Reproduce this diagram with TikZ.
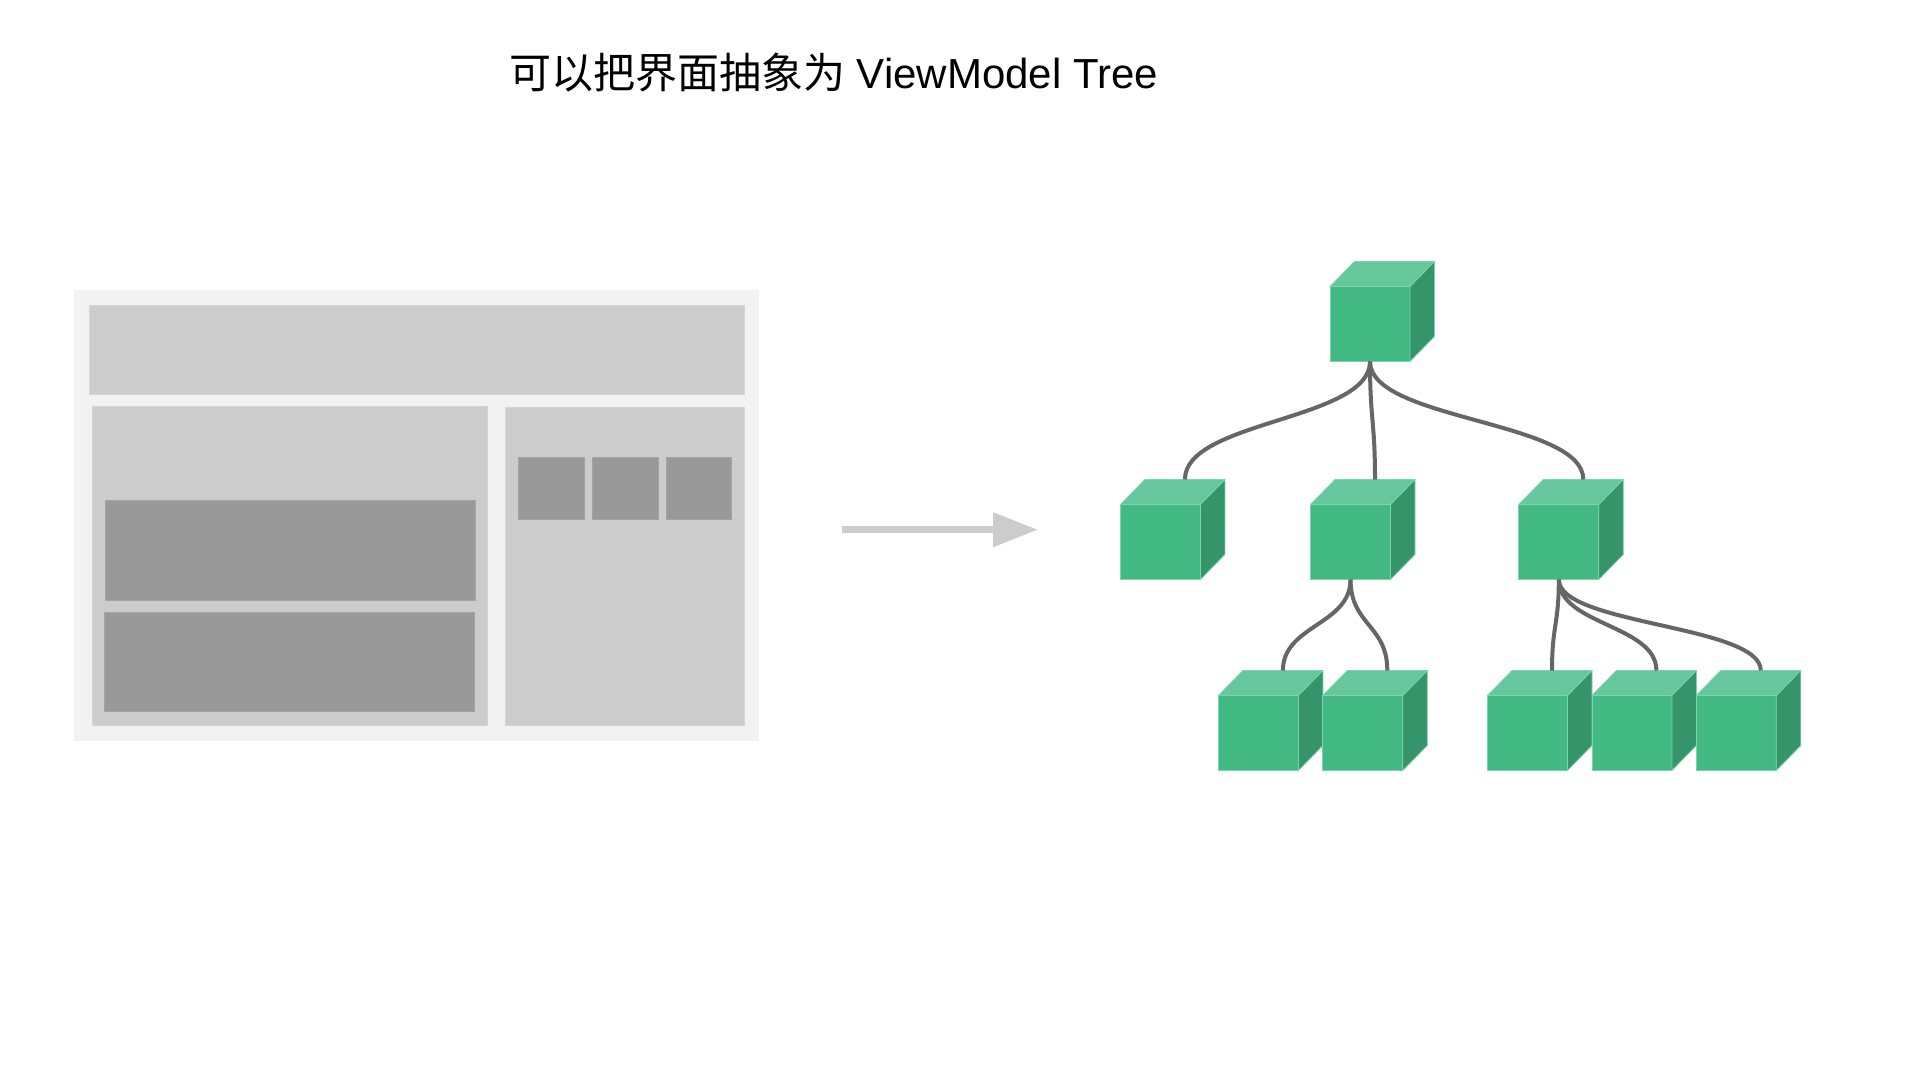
\documentclass[tikz,border=0pt]{standalone}
\usepackage{fontspec}
\setmainfont{Liberation Sans}
\newfontfamily\cjk{Noto Sans CJK SC}
\usetikzlibrary{calc,arrows.meta}
\definecolor{frameC}{HTML}{F2F2F2}
\definecolor{lightC}{HTML}{CCCCCC}
\definecolor{lightE}{HTML}{D4D4D4}
\definecolor{darkC}{HTML}{999999}
\definecolor{darkE}{HTML}{A4A4A4}
\definecolor{cubeF}{HTML}{42B983}
\definecolor{cubeT}{HTML}{66C79C}
\definecolor{cubeS}{HTML}{35946A}
\definecolor{cubeE}{HTML}{7CD4AC}
\definecolor{linkC}{HTML}{666666}
\tikzset{
  panelbox/.style={anchor=north west, inner sep=0pt, outer sep=0pt, line width=1pt},
  framebox/.style={panelbox, fill=frameC},
  lightbox/.style={panelbox, fill=lightC, draw=lightE},
  darkbox/.style={panelbox, fill=darkC, draw=darkE},
  cubefront/.style={anchor=north west, inner sep=0pt, outer sep=0pt, minimum width=80pt, minimum height=75pt, fill=cubeF, draw=cubeE, line width=0.8pt},
  cubetop/.style={fill=cubeT, draw=cubeE, line width=0.8pt, line join=round},
  cubeside/.style={fill=cubeS, draw=cubeE, line width=0.8pt, line join=round},
  treeline/.style={draw=linkC, line width=4pt},
  bigarrow/.style={draw=lightC, line width=7pt, -{Triangle[length=45pt,width=33pt,fill=lightC]}}
}
\newcommand\greencube[3]{%
  \node[cubefront] (#1) at (#2,#3) {};
  \path[cubetop] (#1.north west) -- ++(24.5,-25) -- ++(80,0) -- (#1.north east) -- cycle;
  \path[cubeside] (#1.north east) -- ++(24.5,-25) -- ++(0,75) -- (#1.south east) -- cycle;
  \coordinate (t#1) at ($(#1.north)+(24.5,-25)$);
}
\newcommand\treelink[2]{%
  \draw[treeline] let \p1=(#1.south), \p2=(t#2) in
    (\p1) .. controls (\x1,{0.5*(\y1+\y2)}) and (\x2,{0.5*(\y1+\y2)}) .. (\p2);
}
\begin{document}
\begin{tikzpicture}[x=1pt,y=-1pt]
\fill[white] (0,0) rectangle (1920,1080);
\useasboundingbox (0,0) rectangle (1920,1080);

% title
\node[anchor=base west, inner sep=0pt] (title) at (509,88)
  {\fontsize{42}{50}\selectfont{\cjk 可以把界面抽象为} ViewModel Tree};

% left UI panel
\node[framebox, minimum width=685.7pt, minimum height=450.6pt] (frame) at (73.5,290.2) {};
\node[lightbox, minimum width=655pt, minimum height=89.8pt] (topbar) at (89.5,305.1) {};
\node[lightbox, minimum width=395.4pt, minimum height=319.9pt] (leftpanel) at (92.3,406.0) {};
\node[lightbox, minimum width=239.3pt, minimum height=318.6pt] (rightpanel) at (505.2,407.3) {};
\node[darkbox, minimum width=370.2pt, minimum height=99.8pt] (darkA) at (105.2,500.7) {};
\node[darkbox, minimum width=370.2pt, minimum height=99.8pt] (darkB) at (104.7,612.1) {};
\node[darkbox, minimum width=66pt, minimum height=62pt] (sqA) at (518.1,457.8) {};
\node[darkbox, minimum width=66pt, minimum height=62pt] (sqB) at (592.0,457.8) {};
\node[darkbox, minimum width=65.6pt, minimum height=62pt] (sqC) at (666.0,457.8) {};

% arrow
\coordinate (arrowS) at (842,529.7);
\coordinate (arrowE) at (1038,529.7);
\draw[bigarrow] (arrowS) -- (arrowE);

% cubes
\greencube{R}{1330}{286.5}
\greencube{A}{1120.4}{504.5}
\greencube{B}{1310.5}{504.5}
\greencube{C}{1518.8}{504.5}
\greencube{Ba}{1218.4}{695.5}
\greencube{Bb}{1322.8}{695.5}
\greencube{Ca}{1487.5}{695.5}
\greencube{Cb}{1591.9}{695.5}
\greencube{Cc}{1696.3}{695.5}

% links
\treelink{R}{A}
\treelink{R}{B}
\treelink{R}{C}
\treelink{B}{Ba}
\treelink{B}{Bb}
\treelink{C}{Ca}
\treelink{C}{Cb}
\treelink{C}{Cc}
\end{tikzpicture}
\end{document}
